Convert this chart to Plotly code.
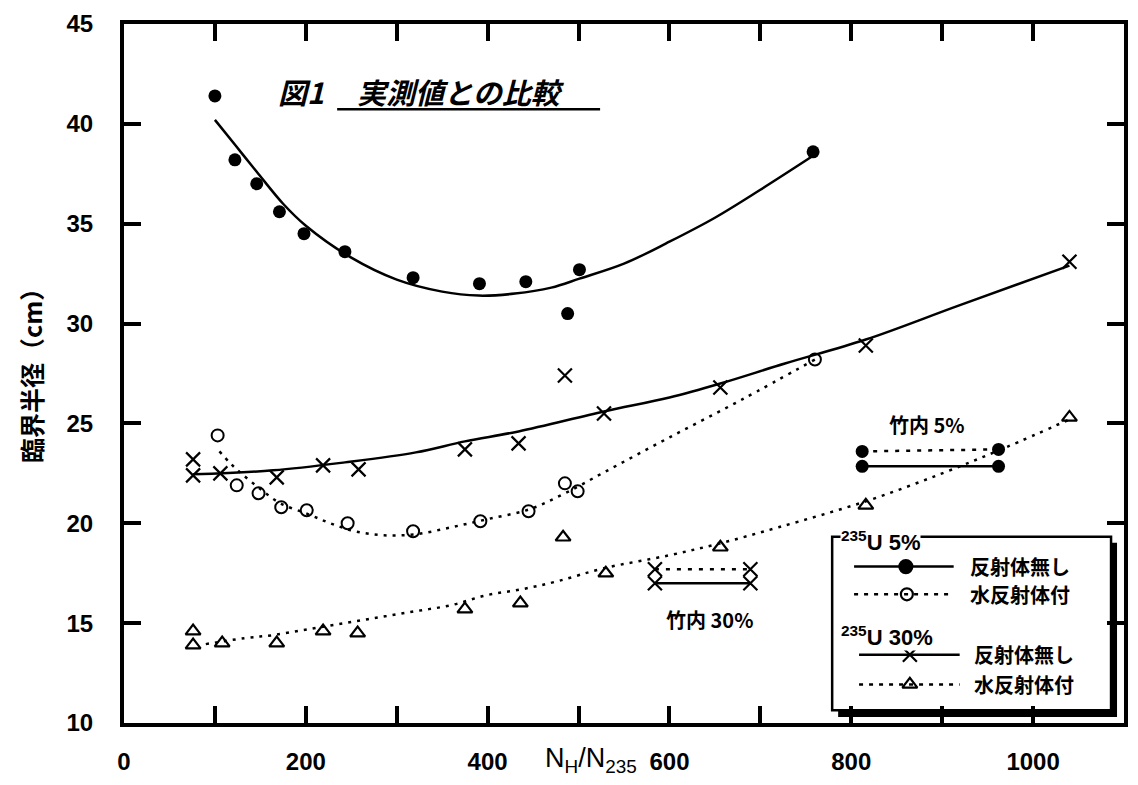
import plotly.graph_objects as go

# ---------------- data ----------------
# U-235 5%, bare (no reflector) : filled circles + solid fit
u5_bare_x = [100, 122, 146, 171, 198, 243, 318, 391, 442, 488, 501, 758]
u5_bare_y = [41.4, 38.2, 37.0, 35.6, 34.5, 33.6, 32.3, 32.0, 32.1, 30.5, 32.7, 38.6]
u5_bare_fit_x = [100, 123, 146, 175, 200, 250, 300, 350, 390, 430, 470, 501, 550, 600, 650, 700, 758]
u5_bare_fit_y = [40.2, 38.9, 37.6, 36.0, 34.9, 33.3, 32.2, 31.6, 31.4, 31.5, 31.8, 32.25, 33.0, 34.1, 35.3, 36.7, 38.4]

# U-235 5%, water reflected : open circles + dotted fit
u5_water_x = [103, 124, 148, 173, 201, 246, 318, 392, 445, 485, 499, 760]
u5_water_y = [24.4, 21.9, 21.5, 20.8, 20.65, 20.0, 19.6, 20.1, 20.6, 22.0, 21.6, 28.2]
u5_water_fit_x = [105, 117, 129, 149, 172, 203, 227, 254, 286, 321, 360, 399, 446, 485, 528, 600, 680, 760]
u5_water_fit_y = [23.6, 23.0, 22.5, 21.75, 21.0, 20.45, 20.0, 19.6, 19.4, 19.45, 19.8, 20.2, 20.7, 21.5, 22.55, 24.3, 26.2, 28.2]

# U-235 30%, bare : crosses + solid fit
u30_bare_x = [76, 76, 106, 168, 219, 258, 375, 434, 485, 528, 656, 816, 1040]
u30_bare_y = [23.2, 22.4, 22.5, 22.3, 22.9, 22.7, 23.7, 24.0, 27.4, 25.5, 26.8, 28.9, 33.1]
u30_bare_fit_x = [76, 164, 243, 321, 375, 434, 528, 600, 656, 727, 816, 918, 1040]
u30_bare_fit_y = [22.45, 22.65, 23.05, 23.55, 24.1, 24.6, 25.6, 26.3, 27.0, 28.0, 29.2, 30.9, 32.9]

# U-235 30%, water reflected : triangles + dotted fit
u30_water_x = [76, 76, 108, 168, 219, 257, 375, 436, 483, 530, 656, 816, 1040]
u30_water_y = [14.6, 13.9, 14.0, 14.0, 14.6, 14.5, 15.7, 16.0, 19.3, 17.5, 18.8, 20.9, 25.3]
u30_water_fit_x = [90, 133, 164, 203, 243, 282, 321, 360, 399, 438, 477, 528, 600, 656, 720, 816, 900, 970, 1040]
u30_water_fit_y = [13.95, 14.25, 14.4, 14.7, 15.0, 15.3, 15.6, 15.9, 16.4, 16.7, 17.1, 17.75, 18.4, 19.0, 19.8, 21.1, 22.5, 23.8, 25.2]

# Takeuchi calculated values
tk5_x = [812, 962]
tk5_water_y = [23.6, 23.7]
tk5_bare_y = [22.85, 22.85]
tk30_x = [584, 689]
tk30_water_y = [17.7, 17.7]
tk30_bare_y = [17.0, 17.0]

x_range = [0, 1100]
y_range = [10, 45]

# ---------------- styling helpers ----------------
NUM_FONT = "Liberation Sans, Arial, sans-serif"
JP_FONT = "Noto Sans CJK JP, sans-serif"
BLACK = "black"
DOT_DASH = "3px,6px"

W, H = 1138, 785
L, R, T, B = 124, 1128, 17, 723


def px(x):
    return (x - L) / (R - L)


def py(y):
    return (B - y) / (B - T)


fig = go.Figure()

# fitted curves
fig.add_trace(go.Scatter(x=u5_bare_fit_x, y=u5_bare_fit_y, mode="lines",
                         line=dict(color=BLACK, width=2.5, shape="spline", smoothing=1.0),
                         showlegend=False, hoverinfo="skip"))
fig.add_trace(go.Scatter(x=u5_water_fit_x, y=u5_water_fit_y, mode="lines",
                         line=dict(color=BLACK, width=2.5, dash=DOT_DASH, shape="spline", smoothing=1.0),
                         showlegend=False, hoverinfo="skip"))
fig.add_trace(go.Scatter(x=u30_bare_fit_x, y=u30_bare_fit_y, mode="lines",
                         line=dict(color=BLACK, width=2.5, shape="spline", smoothing=1.0),
                         showlegend=False, hoverinfo="skip"))
fig.add_trace(go.Scatter(x=u30_water_fit_x, y=u30_water_fit_y, mode="lines",
                         line=dict(color=BLACK, width=2.5, dash=DOT_DASH, shape="spline", smoothing=1.0),
                         showlegend=False, hoverinfo="skip"))

# measured points
fig.add_trace(go.Scatter(x=u5_bare_x, y=u5_bare_y, mode="markers",
                         marker=dict(symbol="circle", size=13, color=BLACK),
                         name="235U 5% 反射体無し", showlegend=False))
fig.add_trace(go.Scatter(x=u5_water_x, y=u5_water_y, mode="markers",
                         marker=dict(symbol="circle-open", size=12, color=BLACK, line=dict(width=2)),
                         name="235U 5% 水反射体付", showlegend=False))
fig.add_trace(go.Scatter(x=u30_bare_x, y=u30_bare_y, mode="markers",
                         marker=dict(symbol="x-thin-open", size=14, color=BLACK, line=dict(width=2.2, color=BLACK)),
                         name="235U 30% 反射体無し", showlegend=False))
fig.add_trace(go.Scatter(x=u30_water_x, y=u30_water_y, mode="markers",
                         marker=dict(symbol="triangle-up-open", size=13, color=BLACK, line=dict(width=2.2)),
                         name="235U 30% 水反射体付", showlegend=False))

# Takeuchi lines
fig.add_trace(go.Scatter(x=tk5_x, y=tk5_water_y, mode="lines+markers",
                         line=dict(color=BLACK, width=2.5, dash="4px,7px"),
                         marker=dict(symbol="circle", size=13, color=BLACK), showlegend=False))
fig.add_trace(go.Scatter(x=tk5_x, y=tk5_bare_y, mode="lines+markers",
                         line=dict(color=BLACK, width=2.5),
                         marker=dict(symbol="circle", size=13, color=BLACK), showlegend=False))
fig.add_trace(go.Scatter(x=tk30_x, y=tk30_water_y, mode="lines+markers",
                         line=dict(color=BLACK, width=2.5, dash="4px,7px"),
                         marker=dict(symbol="x-thin-open", size=14, line=dict(width=2.2, color=BLACK)),
                         showlegend=False))
fig.add_trace(go.Scatter(x=tk30_x, y=tk30_bare_y, mode="lines+markers",
                         line=dict(color=BLACK, width=2.5),
                         marker=dict(symbol="x-thin-open", size=14, line=dict(width=2.2, color=BLACK)),
                         showlegend=False))

# ---------------- custom legend samples (overlay axes in pixel units) ----------------
leg_rows = [
    dict(x0=857, x1=957, xm=909, y=565, dash="solid", sym="circle"),
    dict(x0=857, x1=957, xm=910, y=593, dash="4px,6px", sym="circle-open"),
    dict(x0=862, x1=963, xm=913, y=654, dash="solid", sym="x-thin-open"),
    dict(x0=862, x1=963, xm=913, y=684, dash="4px,6px", sym="triangle-up-open"),
]
for r in leg_rows:
    fig.add_trace(go.Scatter(x=[r["x0"], r["x1"]], y=[r["y"], r["y"]], mode="lines",
                             xaxis="x2", yaxis="y2",
                             line=dict(color=BLACK, width=2.5, dash=r["dash"]),
                             showlegend=False, hoverinfo="skip"))
    msize = {"circle": 13, "circle-open": 12, "x-thin-open": 14, "triangle-up-open": 13}[r["sym"]]
    fig.add_trace(go.Scatter(x=[r["xm"]], y=[r["y"]], mode="markers",
                             xaxis="x2", yaxis="y2",
                             marker=dict(symbol=r["sym"], size=msize, color=BLACK,
                                         line=dict(width=2.2, color=BLACK)),
                             showlegend=False, hoverinfo="skip"))

shapes = [
    # legend shadow + box
    dict(type="rect", xref="paper", yref="paper", x0=px(841), x1=px(1121), y0=py(717), y1=py(541),
         fillcolor=BLACK, line=dict(width=0), layer="below"),
    dict(type="rect", xref="paper", yref="paper", x0=px(835), x1=px(1115), y0=py(710), y1=py(535),
         fillcolor="white", line=dict(width=2.5, color=BLACK), layer="below"),
    # title underline
    dict(type="line", xref="paper", yref="paper", x0=px(338), x1=px(602), y0=py(103), y1=py(103),
         line=dict(width=2.5, color=BLACK)),
]

ann = []


def add_text(text, x, y, size, font=JP_FONT, weight="bold", style="normal", xanchor="center",
             textangle=0, bgcolor=None):
    d = dict(text=text, xref="paper", yref="paper", x=px(x), y=py(y), showarrow=False,
             xanchor=xanchor, yanchor="middle", textangle=textangle, borderpad=0,
             font=dict(family=font, size=size, color=BLACK, weight=weight, style=style))
    if bgcolor:
        d["bgcolor"] = bgcolor
    ann.append(d)


add_text("図1", 302, 85, 29, style="italic")
add_text("実測値との比較", 462, 85, 29, style="italic")
add_text("臨界半径（cm）", 30, 366, 25, textangle=-90)
add_text("N<sub>H</sub>/N<sub>235</sub>", 593, 760, 27, font=NUM_FONT, weight="normal")
add_text("竹内 5%", 930, 422, 20)
add_text("竹内 30%", 712, 618, 20)
add_text("<sup>235</sup>U 5%", 843, 539, 22, font=NUM_FONT, xanchor="left", bgcolor="white")
add_text("<sup>235</sup>U 30%", 843, 635, 22, font=NUM_FONT, xanchor="left", bgcolor="white")
add_text("反射体無し", 972, 565, 20, xanchor="left")
add_text("水反射体付", 972, 593, 20, xanchor="left")
add_text("反射体無し", 976, 654, 20, xanchor="left")
add_text("水反射体付", 976, 684, 20, xanchor="left")

axis_common = dict(
    ticks="inside", ticklen=17, tickwidth=4, tickcolor=BLACK,
    showline=True, linewidth=4, linecolor=BLACK, mirror="ticks",
    showgrid=False, zeroline=False,
    tickfont=dict(family=NUM_FONT, size=24, color=BLACK, weight="bold"),
)

fig.update_layout(
    width=W, height=H,
    margin=dict(l=L, r=W - R, t=T, b=H - B),
    paper_bgcolor="white", plot_bgcolor="white",
    showlegend=False,
    xaxis=dict(range=x_range, dtick=200, tick0=0, ticklabelstandoff=14,
               minor=dict(dtick=100, ticks="inside", ticklen=17, tickwidth=4, tickcolor=BLACK),
               **axis_common),
    yaxis=dict(range=y_range, dtick=5, tick0=10, ticklabelstandoff=22, **axis_common),
    xaxis2=dict(range=[L, R], overlaying="x", anchor="y2", visible=False, fixedrange=True),
    yaxis2=dict(range=[B, T], overlaying="y", anchor="x2", visible=False, fixedrange=True),
    shapes=shapes,
    annotations=ann,
)

fig.write_html("out.html", config={"displayModeBar": False},
               post_script="document.body.style.margin='0';")
